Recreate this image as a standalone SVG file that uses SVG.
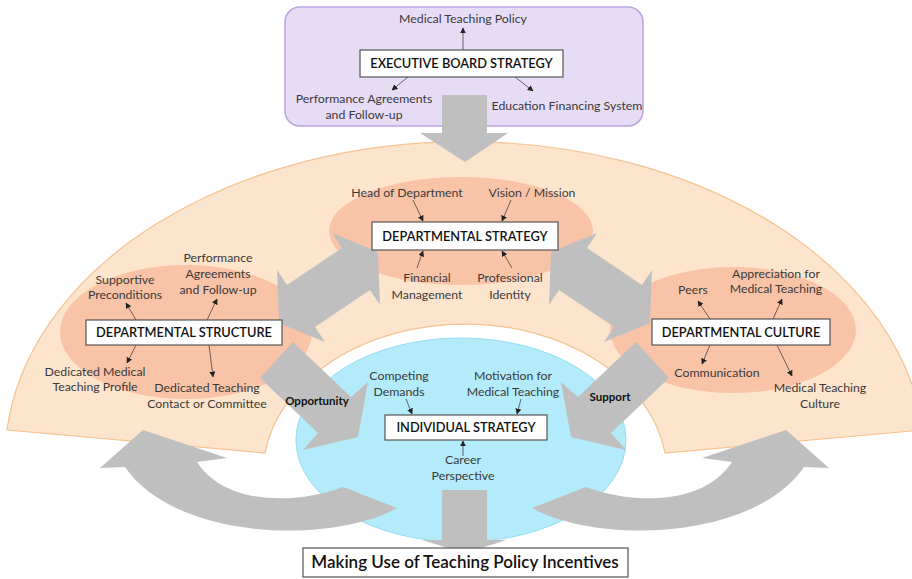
<svg xmlns="http://www.w3.org/2000/svg" width="912" height="579" viewBox="0 0 912 579">
<defs>
<marker id="ah" viewBox="0 0 10 10" refX="9" refY="5" markerWidth="6" markerHeight="6" markerUnits="userSpaceOnUse" orient="auto">
<path d="M0,0 L10,5 L0,10 Z" fill="#222"/>
</marker>
<style>
.lbl{font-family:Lato,"Liberation Sans",sans-serif;font-size:12.3px;fill:#3a3a3a;text-anchor:middle}
.ttl{font-family:Lato,"Liberation Sans",sans-serif;font-size:12.8px;fill:#111;text-anchor:middle;font-weight:600}
.box{fill:#fff;stroke:#555;stroke-width:1.2}
.gray{fill:#bfbfbf}
.ln{stroke:#444;stroke-width:0.8;fill:none;marker-end:url(#ah)}
.bold{font-family:Lato,"Liberation Sans",sans-serif;font-size:11.5px;font-weight:bold;fill:#111;text-anchor:middle}
</style>
</defs>
<rect width="912" height="579" fill="#fff"/>
<g id="background">
<path d="M7,430 A460 318 0 0 1 923,430 L665,453 A202 150 0 0 0 265,453 Z" fill="#fde4cc" stroke="#f5c391" stroke-width="1.2"/>
<ellipse cx="461" cy="231" rx="132" ry="54" fill="#f9c3a7"/>
<ellipse cx="186" cy="332" rx="126" ry="67" fill="#f9c3a7"/>
<ellipse cx="733" cy="330" rx="123" ry="63" fill="#f9c3a7"/>
<ellipse cx="461" cy="440" rx="165" ry="102" fill="#b4ebfa" stroke="#94dcf2" stroke-width="1"/>
<rect x="285" y="7" width="358" height="119" rx="15" fill="#e6dcf6" stroke="#b9a3e2" stroke-width="1.5"/>
</g>
<g id="connectors">
<polygon class="gray" points="442,95 487,95 487,133 508,133 465,162 420,133 442,133"/>
<polygon class="gray" points="442,490 487,490 487,540 507,540 464.5,553 422,540 442,540"/>
<polygon class="gray" points="378,252 332,233 342,248 287,285 277,270 279,323 325,342 315,327 370,290 380,305"/>
<polygon class="gray" transform="translate(929,0) scale(-1,1)" points="378,252 332,233 342,248 287,285 277,270 279,323 325,342 315,327 370,290 380,305"/>
<polygon class="gray" points="293,342 351,397 368,382 358,437 303,450 318,433 260,378"/>
<polygon class="gray" transform="translate(929,0) scale(-1,1)" points="293,342 351,397 368,382 358,437 303,450 318,433 260,378"/>
<path class="gray" d="M143,430 L227,458 L197,462 C225,505 295,505 343,487 L397,508 C330,545 175,540 125,467 L100,468 Z"/>
<path class="gray" transform="translate(929,0) scale(-1,1)" d="M143,430 L227,458 L197,462 C225,505 295,505 343,487 L397,508 C330,545 175,540 125,467 L100,468 Z"/>
<line class="ln" x1="463" y1="50" x2="463" y2="28"/>
<line class="ln" x1="408" y1="77" x2="392" y2="90"/>
<line class="ln" x1="515" y1="77" x2="533" y2="91"/>
<line class="ln" x1="413" y1="200" x2="423" y2="221"/>
<line class="ln" x1="511" y1="200" x2="502" y2="221"/>
<line class="ln" x1="417" y1="268" x2="423" y2="251"/>
<line class="ln" x1="512" y1="268" x2="502" y2="251"/>
<line class="ln" x1="136" y1="320" x2="126" y2="303"/>
<line class="ln" x1="207" y1="320" x2="217" y2="299"/>
<line class="ln" x1="136" y1="345" x2="127" y2="363"/>
<line class="ln" x1="209" y1="345" x2="213" y2="377"/>
<line class="ln" x1="710" y1="319" x2="698" y2="301"/>
<line class="ln" x1="773" y1="319" x2="782" y2="299"/>
<line class="ln" x1="710" y1="345" x2="702" y2="364"/>
<line class="ln" x1="777" y1="345" x2="792" y2="376"/>
<line class="ln" x1="406" y1="399" x2="412" y2="414"/>
<line class="ln" x1="521" y1="399" x2="517" y2="414"/>
<line class="ln" x1="463" y1="456" x2="463" y2="441"/>
<text class="bold" x="317" y="405">Opportunity</text>
<text class="bold" x="610" y="401">Support</text>
</g>
<g id="executive">
<rect class="box" x="360" y="50" width="203" height="27"/>
<text class="ttl" x="461.5" y="68">EXECUTIVE BOARD STRATEGY</text>
<text class="lbl" x="463" y="23">Medical Teaching Policy</text>
<text class="lbl" x="364" y="103">Performance Agreements</text>
<text class="lbl" x="364" y="119">and Follow-up</text>
<text class="lbl" x="567" y="110">Education Financing System</text>
</g>
<g id="dept-strategy">
<rect class="box" x="372" y="222" width="186" height="28"/>
<text class="ttl" x="465" y="241">DEPARTMENTAL STRATEGY</text>
<text class="lbl" x="407" y="197">Head of Department</text>
<text class="lbl" x="532" y="197">Vision / Mission</text>
<text class="lbl" x="427" y="282">Financial</text>
<text class="lbl" x="427" y="299">Management</text>
<text class="lbl" x="510" y="282">Professional</text>
<text class="lbl" x="510" y="299">Identity</text>
</g>
<g id="dept-structure">
<rect class="box" x="86" y="320" width="196" height="25"/>
<text class="ttl" x="184" y="337">DEPARTMENTAL STRUCTURE</text>
<text class="lbl" x="125" y="284">Supportive</text>
<text class="lbl" x="125" y="299">Preconditions</text>
<text class="lbl" x="218" y="262">Performance</text>
<text class="lbl" x="218" y="278">Agreements</text>
<text class="lbl" x="218" y="294">and Follow-up</text>
<text class="lbl" x="95" y="376">Dedicated Medical</text>
<text class="lbl" x="95" y="391">Teaching Profile</text>
<text class="lbl" x="207" y="392">Dedicated Teaching</text>
<text class="lbl" x="207" y="408">Contact or Committee</text>
</g>
<g id="dept-culture">
<rect class="box" x="652" y="319" width="178" height="26"/>
<text class="ttl" x="741" y="337">DEPARTMENTAL CULTURE</text>
<text class="lbl" x="693" y="294">Peers</text>
<text class="lbl" x="776" y="278">Appreciation for</text>
<text class="lbl" x="776" y="293">Medical Teaching</text>
<text class="lbl" x="717" y="377">Communication</text>
<text class="lbl" x="820" y="392">Medical Teaching</text>
<text class="lbl" x="820" y="408">Culture</text>
</g>
<g id="individual">
<rect class="box" x="385" y="415" width="162" height="25"/>
<text class="ttl" x="466" y="432">INDIVIDUAL STRATEGY</text>
<text class="lbl" x="399" y="380">Competing</text>
<text class="lbl" x="399" y="396">Demands</text>
<text class="lbl" x="513" y="380">Motivation for</text>
<text class="lbl" x="513" y="396">Medical Teaching</text>
<text class="lbl" x="463" y="464">Career</text>
<text class="lbl" x="463" y="480">Perspective</text>
</g>
<g id="outcome">
<rect class="box" x="303" y="548" width="325" height="29"/>
<text x="465" y="568" style="font-family:Lato,'Liberation Sans',sans-serif;font-size:17px;font-weight:600;fill:#111;text-anchor:middle">Making Use of Teaching Policy Incentives</text>
</g>
</svg>
